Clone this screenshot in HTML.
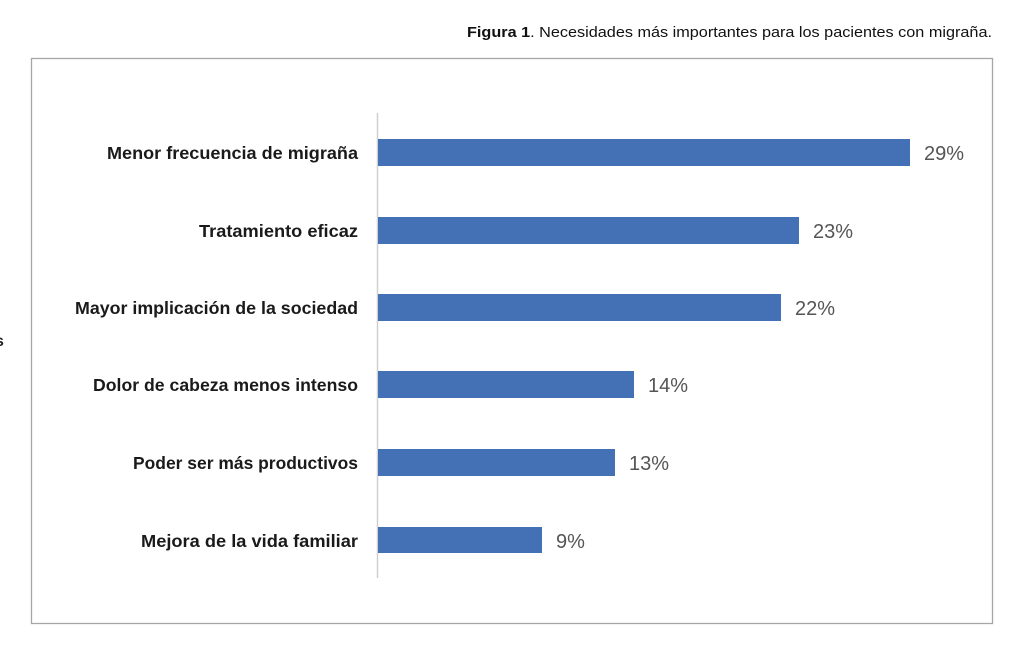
<!DOCTYPE html>
<html><head><meta charset="utf-8"><style>
html,body{margin:0;padding:0;background:#fff;}
svg{display:block;}
</style></head><body>
<svg width="1024" height="655" viewBox="0 0 1024 655" xmlns="http://www.w3.org/2000/svg">
<rect x="0" y="0" width="1024" height="655" fill="#fff"/>
<text x="992" y="37" text-anchor="end" font-family="Liberation Sans Narrow, Liberation Sans, sans-serif" font-size="15" fill="#111" textLength="525" lengthAdjust="spacingAndGlyphs"><tspan font-weight="bold">Figura 1</tspan>. Necesidades más importantes para los pacientes con migraña.</text>
<rect x="31.5" y="58.5" width="961" height="565" fill="none" stroke="#a6a6a6" stroke-width="1.3"/>
<line x1="377.5" y1="113" x2="377.5" y2="578" stroke="#d0d0d0" stroke-width="1.5"/>
<g fill="#4470b5">
<rect x="378" y="139" width="532" height="27"/>
<rect x="378" y="217" width="421" height="27"/>
<rect x="378" y="294" width="403" height="27"/>
<rect x="378" y="371" width="256" height="27"/>
<rect x="378" y="449" width="237" height="27"/>
<rect x="378" y="527" width="164" height="26"/>
</g>
<g font-family="Liberation Sans, sans-serif" font-size="17.5" font-weight="bold" fill="#1a1a1a" text-anchor="end" lengthAdjust="spacingAndGlyphs">
<text x="358" y="159" textLength="251" lengthAdjust="spacingAndGlyphs">Menor frecuencia de migraña</text>
<text x="358" y="237" textLength="159" lengthAdjust="spacingAndGlyphs">Tratamiento eficaz</text>
<text x="358" y="314" textLength="283" lengthAdjust="spacingAndGlyphs">Mayor implicación de la sociedad</text>
<text x="358" y="391" textLength="265" lengthAdjust="spacingAndGlyphs">Dolor de cabeza menos intenso</text>
<text x="358" y="469" textLength="225" lengthAdjust="spacingAndGlyphs">Poder ser más productivos</text>
<text x="358" y="547" textLength="217" lengthAdjust="spacingAndGlyphs">Mejora de la vida familiar</text>
</g>
<g font-family="Liberation Sans, sans-serif" font-size="20" fill="#555">
<text x="924" y="160">29%</text>
<text x="813" y="238">23%</text>
<text x="795" y="315">22%</text>
<text x="648" y="392">14%</text>
<text x="629" y="470">13%</text>
<text x="556" y="548">9%</text>
</g>
<text x="-5" y="346" font-family="Liberation Sans, sans-serif" font-size="16" font-weight="bold" fill="#222">s</text>
</svg>
</body></html>
